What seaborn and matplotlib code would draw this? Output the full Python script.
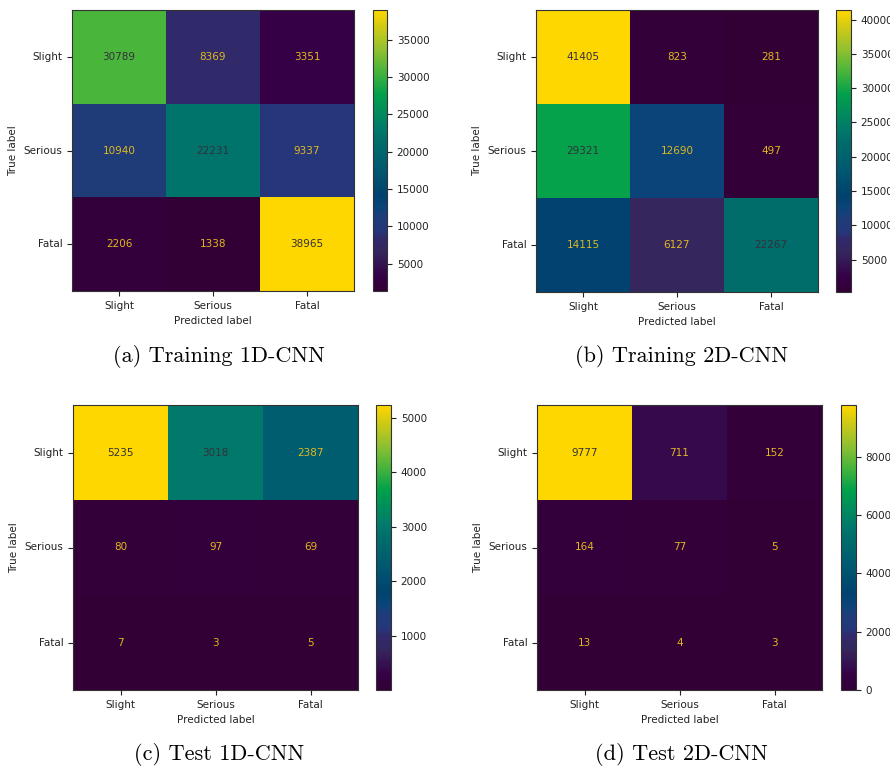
import matplotlib
matplotlib.use("Agg")
import matplotlib.pyplot as plt
from matplotlib.colors import LinearSegmentedColormap
import seaborn as sns
import pandas as pd
import numpy as np

class_names = ["Slight", "Serious", "Fatal"]

train_1d = [[30789, 8369, 3351],
            [10940, 22231, 9337],
            [2206, 1338, 38965]]
train_2d = [[41405, 823, 281],
            [29321, 12690, 497],
            [14115, 6127, 22267]]
test_1d = [[5235, 3018, 2387],
           [80, 97, 69],
           [7, 3, 5]]
test_2d = [[9777, 711, 152],
           [164, 77, 5],
           [13, 4, 3]]

captions = ["(a) Training 1D-CNN", "(b) Training 2D-CNN",
            "(c) Test 1D-CNN", "(d) Test 2D-CNN"]

# viridis as it looks in the (colour-shifted) printed figure
cmap = LinearSegmentedColormap.from_list("viridis_print", [
    (0.00, "#330036"), (0.05, "#350046"), (0.14, "#35265e"),
    (0.19, "#302a6c"), (0.21, "#26367a"), (0.26, "#1e3c78"),
    (0.30, "#0a4478"), (0.34, "#00426f"), (0.45, "#005c70"),
    (0.54, "#006e6a"), (0.58, "#007a6a"), (0.70, "#00a04c"),
    (0.78, "#46b43c"), (0.86, "#90c030"), (0.93, "#c8c818"),
    (1.00, "#ffd700")])
text_dark = "#34303c"
text_light = "#e0b820"

W, H = 890, 770


def box(x0, y0, x1, y1):
    # pixel box (top-left origin) -> figure fraction rect
    return [x0 / W, 1 - y1 / H, (x1 - x0) / W, (y1 - y0) / H]


def draw_cm(fig, matrix, ax_px, cb_px, caption, cap_px, vmin=None):
    cm = pd.DataFrame(matrix, index=class_names, columns=class_names)
    ax = fig.add_axes(box(*ax_px))
    cax = fig.add_axes(box(*cb_px))
    lo = cm.values.min() if vmin is None else vmin
    hi = cm.values.max()
    sns.heatmap(cm, ax=ax, cbar_ax=cax, cmap=cmap, vmin=lo, vmax=hi,
                annot=True, fmt="d", annot_kws={"size": 7.5})

    # sklearn-style text colours: yellow on dark cells, dark on bright
    thresh = (cm.values.max() + cm.values.min()) / 2.0
    for txt in ax.texts:
        v = int(txt.get_text())
        txt.set_color(text_light if v < thresh else text_dark)

    for s in ax.spines.values():
        s.set_visible(True)
        s.set_linewidth(0.8)
        s.set_color("#333333")
    cbar = ax.collections[0].colorbar
    cbar.outline.set_visible(True)
    cbar.outline.set_linewidth(0.8)
    cbar.outline.set_edgecolor("#333333")
    cax.tick_params(labelsize=7.5, length=3.5, colors="#222222")

    ax.set_yticklabels(class_names, rotation=0, va="center")
    ax.set_xticklabels(class_names, rotation=0)
    ax.tick_params(labelsize=7.5, length=3.5, colors="#222222")
    ax.set_xlabel("Predicted label", fontsize=7.5, color="#222222")
    ax.set_ylabel("True label", fontsize=7.5, color="#222222")

    fig.text(cap_px[0] / W, 1 - cap_px[1] / H, caption, ha="center",
             va="center", fontsize=16, family="cmr10")


fig = plt.figure(figsize=(8.9, 7.7), dpi=100)

draw_cm(fig, train_1d, (72, 10, 354, 291), (373, 10, 387, 291),
        captions[0], (219, 357))
draw_cm(fig, train_2d, (536, 10, 818, 292), (836, 10, 851, 292),
        captions[1], (682, 357))
draw_cm(fig, test_1d, (73, 405, 358, 690), (376, 405, 391, 690),
        captions[2], (219, 755))
draw_cm(fig, test_2d, (537, 405, 822, 690), (841, 405, 856, 690),
        captions[3], (681, 755), vmin=0)

fig.savefig("out.png", dpi=100)
